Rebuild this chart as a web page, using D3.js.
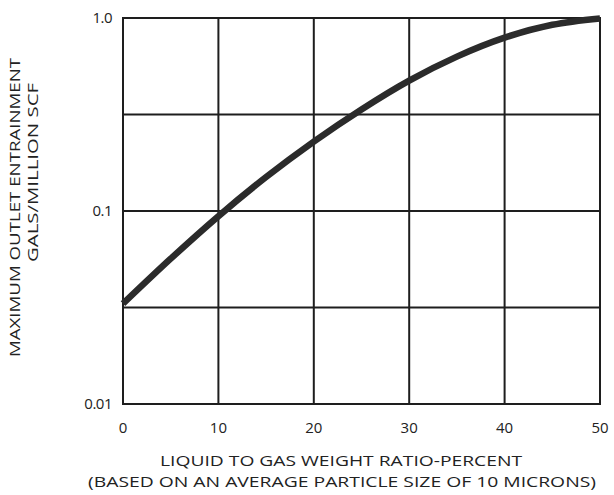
<!DOCTYPE html>
<html>
<head>
<meta charset="utf-8">
<script src="https://cdn.jsdelivr.net/npm/d3@7"></script>
<style>
  body { margin: 0; background: #fff; }
  text { font-family: "Open Sans", sans-serif; fill: #222; }
</style>
</head>
<body>
<svg id="chart" width="614" height="495"></svg>
<script>
// data
const ratio = [0, 5, 10, 15, 20, 25, 30, 35, 40, 45, 50];
const entrainment = [0.0331, 0.0566, 0.094, 0.150, 0.229, 0.336, 0.474, 0.631, 0.791, 0.922, 0.995];
const xTicks = [0, 10, 20, 30, 40, 50];
const yGrid = [0.01, 0.0316, 0.1, 0.316, 1];
const yTicks = [0.01, 0.1, 1];
const yTickLabels = ["0.01", "0.1", "1.0"];

const svg = d3.select("#chart");
const x = d3.scaleLinear().domain([0, 50]).range([123, 600]);
const y = d3.scaleLog().domain([0.01, 1]).range([404, 18]);

// grid
svg.append("g")
  .selectAll("line")
  .data(xTicks)
  .enter()
  .append("line")
  .attr("x1", (d) => x(d))
  .attr("x2", (d) => x(d))
  .attr("y1", y(1) - 1)
  .attr("y2", y(0.01) + 1)
  .attr("stroke", "#1e1e1e")
  .attr("stroke-width", 2);

svg.append("g")
  .selectAll("line")
  .data(yGrid)
  .enter()
  .append("line")
  .attr("x1", x(0) - 1)
  .attr("x2", x(50) + 1)
  .attr("y1", (d) => y(d))
  .attr("y2", (d) => y(d))
  .attr("stroke", "#1e1e1e")
  .attr("stroke-width", 2);

// curve
const points = ratio.map((r, i) => [r, entrainment[i]]);
const line = d3.line()
  .x((d) => x(d[0]))
  .y((d) => y(d[1]))
  .curve(d3.curveMonotoneX);

svg.append("path")
  .datum(points)
  .attr("d", line)
  .attr("fill", "none")
  .attr("stroke", "#2b2b2b")
  .attr("stroke-width", 6.5);

// tick labels
svg.append("g")
  .selectAll("text")
  .data(xTicks)
  .enter()
  .append("text")
  .attr("x", (d) => x(d))
  .attr("y", 433)
  .attr("text-anchor", "middle")
  .attr("font-size", 15)
  .text((d) => d);

svg.append("g")
  .selectAll("text")
  .data(yTicks)
  .enter()
  .append("text")
  .attr("x", 112)
  .attr("y", (d) => y(d) + 5)
  .attr("text-anchor", "end")
  .attr("font-size", 15)
  .attr("letter-spacing", -0.5)
  .text((d, i) => yTickLabels[i]);

// axis titles
svg.append("text")
  .attr("x", 160)
  .attr("y", 466)
  .attr("font-size", 14)
  .attr("textLength", 362)
  .attr("lengthAdjust", "spacingAndGlyphs")
  .text("LIQUID TO GAS WEIGHT RATIO-PERCENT");

svg.append("text")
  .attr("x", 88)
  .attr("y", 487)
  .attr("font-size", 14)
  .attr("textLength", 508)
  .attr("lengthAdjust", "spacingAndGlyphs")
  .text("(BASED ON AN AVERAGE PARTICLE SIZE OF 10 MICRONS)");

svg.append("text")
  .attr("transform", "translate(20,357) rotate(-90)")
  .attr("font-size", 14)
  .attr("textLength", 299)
  .attr("lengthAdjust", "spacingAndGlyphs")
  .text("MAXIMUM OUTLET ENTRAINMENT");

svg.append("text")
  .attr("transform", "translate(38,262) rotate(-90)")
  .attr("font-size", 14)
  .attr("textLength", 179)
  .attr("lengthAdjust", "spacingAndGlyphs")
  .text("GALS/MILLION SCF");
</script>
</body>
</html>
